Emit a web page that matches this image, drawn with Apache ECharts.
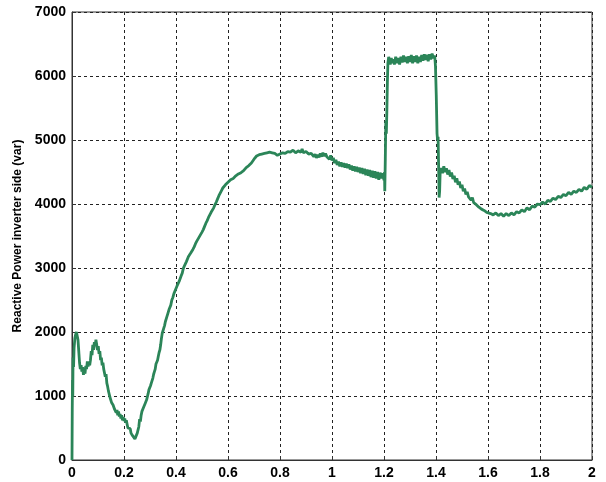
<!DOCTYPE html>
<html><head><meta charset="utf-8">
<script src="https://cdn.jsdelivr.net/npm/echarts@6/dist/echarts.min.js"></script>
<style>html,body{margin:0;padding:0;background:#fff}#c{width:606px;height:482px}</style>
</head><body><div id="c"></div>
<script>
var xTicks = [0,0.2,0.4,0.6,0.8,1,1.2,1.4,1.6,1.8,2];
var yTicks = [0,1000,2000,3000,4000,5000,6000,7000];
var yName = 'Reactive Power inverter side (var)';
var reactive = [
[0,0],[0.001,800],[0.002,1250],[0.003,1000],[0.004,1600],[0.006,1450],[0.008,1750],[0.011,1900],[0.014,1960],[0.017,2000],[0.020,1970],[0.023,1880],[0.026,1700],[0.029,1520],[0.032,1420],[0.035,1480],[0.038,1380],[0.041,1450],[0.044,1330],[0.047,1400],[0.050,1350],[0.053,1470],[0.056,1420],[0.059,1540],[0.062,1460],[0.065,1520],[0.068,1480],[0.071,1560],[0.074,1700],[0.077,1640],[0.080,1800],[0.083,1720],[0.086,1840],[0.089,1780],[0.092,1880],[0.095,1800],[0.098,1720],[0.101,1780],[0.104,1660],[0.107,1700],[0.110,1560],[0.113,1600],[0.116,1480],[0.119,1520],[0.122,1420],[0.125,1440],[0.128,1300],[0.131,1340],[0.134,1200],[0.137,1150],[0.140,1080],[0.143,1100],[0.146,980],[0.149,1010],[0.152,900],[0.155,930],[0.158,860],[0.161,890],[0.164,790],[0.167,820],[0.170,740],[0.173,780],[0.176,700],[0.179,760],[0.182,680],[0.185,720],[0.188,650],[0.191,700],[0.194,620],[0.197,670],[0.200,610],[0.203,650],[0.206,580],[0.209,620],[0.212,560],[0.215,500],[0.218,530],[0.221,470],[0.224,490],[0.227,420],[0.230,440],[0.233,380],[0.236,400],[0.239,350],[0.242,330],[0.245,360],[0.248,340],[0.251,420],[0.254,470],[0.257,520],[0.260,640],[0.263,600],[0.266,700],[0.269,760],[0.272,740],[0.275,820],[0.278,800],[0.281,880],[0.284,860],[0.287,940],[0.290,990],[0.293,1040],[0.296,1100],[0.299,1080],[0.302,1160],[0.305,1200],[0.308,1240],[0.311,1280],[0.314,1340],[0.317,1380],[0.320,1420],[0.323,1500],[0.326,1480],[0.329,1560],[0.332,1620],[0.335,1680],[0.338,1720],[0.341,1800],[0.344,1900],[0.347,1980],[0.350,2020],[0.353,2060],[0.356,2100],[0.359,2160],[0.362,2180],[0.365,2240],[0.368,2280],[0.371,2300],[0.374,2360],[0.377,2380],[0.380,2420],[0.384,2500],[0.388,2540],[0.392,2600],[0.396,2620],[0.400,2680],[0.404,2720],[0.408,2740],[0.412,2790],[0.416,2820],[0.420,2880],[0.424,2920],[0.428,2990],[0.432,3030],[0.436,3060],[0.440,3100],[0.444,3130],[0.448,3180],[0.452,3200],[0.456,3230],[0.460,3260],[0.465,3290],[0.470,3330],[0.475,3380],[0.480,3420],[0.485,3450],[0.490,3490],[0.495,3520],[0.500,3560],[0.505,3600],[0.510,3650],[0.515,3700],[0.520,3740],[0.525,3790],[0.530,3830],[0.535,3870],[0.540,3900],[0.545,3940],[0.550,3990],[0.555,4030],[0.560,4080],[0.565,4130],[0.570,4170],[0.575,4210],[0.580,4250],[0.585,4270],[0.590,4300],[0.595,4330],[0.600,4340],
[0.61,4380],[0.62,4400],[0.63,4440],[0.64,4470],[0.65,4490],[0.66,4520],[0.67,4570],[0.68,4600],[0.69,4640],[0.70,4700],[0.71,4750],[0.72,4770],[0.73,4780],[0.74,4790],[0.75,4800],[0.76,4810],[0.77,4800],[0.775,4830],[0.78,4790],[0.79,4760],[0.80,4780],[0.81,4800],[0.82,4790],[0.83,4820],[0.84,4810],[0.85,4840],[0.86,4800],[0.87,4830],[0.88,4810],[0.885,4860],[0.89,4800],[0.90,4820],[0.91,4780],[0.915,4760],[0.92,4790],[0.93,4740],[0.935,4780],[0.94,4720],[0.945,4770],[0.95,4730],[0.955,4790],[0.96,4740],[0.965,4800],[0.97,4750],[0.975,4790],[0.98,4740],[0.985,4770],[0.99,4700],[0.995,4760],[1.0,4680],
[1.005,4720],[1.01,4640],[1.015,4690],[1.02,4610],[1.025,4660],[1.03,4590],[1.035,4650],[1.04,4580],[1.045,4640],[1.05,4570],[1.055,4630],[1.06,4560],[1.065,4620],[1.07,4540],[1.075,4600],[1.08,4520],[1.085,4590],[1.09,4510],[1.095,4580],[1.10,4500],[1.105,4570],[1.11,4480],[1.115,4560],[1.12,4470],[1.125,4550],[1.13,4450],[1.135,4540],[1.14,4440],[1.145,4530],[1.15,4420],[1.155,4520],[1.16,4410],[1.165,4510],[1.17,4400],[1.175,4500],[1.18,4380],[1.185,4490],[1.19,4400],[1.195,4480],[1.20,4370],[1.202,4500],[1.203,4200],[1.205,4700],[1.207,5300],[1.209,5100],[1.211,5450],[1.213,5900],[1.215,6200],[1.218,6300],[1.221,6250],[1.224,6180],[1.228,6280],[1.232,6200],[1.236,6260],[1.240,6180],[1.245,6300],[1.25,6200],[1.255,6280],[1.26,6180],[1.265,6300],[1.27,6210],[1.275,6320],[1.28,6220],[1.285,6300],[1.29,6200],[1.295,6310],[1.30,6220],[1.305,6330],[1.31,6200],[1.315,6310],[1.32,6220],[1.325,6320],[1.33,6200],[1.335,6300],[1.34,6220],[1.345,6330],[1.35,6240],[1.355,6340],[1.36,6250],[1.365,6330],[1.37,6230],[1.375,6340],[1.38,6260],[1.385,6350],[1.39,6280],[1.395,6320],[1.398,6150],[1.401,5700],[1.404,5100],[1.406,5000],[1.408,5050],[1.410,4600],[1.412,4100],[1.414,4200],[1.416,4500],[1.42,4560],[1.425,4480],[1.43,4590],[1.435,4500],[1.44,4560],[1.445,4460],[1.45,4530],[1.455,4430],[1.46,4490],[1.465,4390],[1.47,4440],[1.475,4340],[1.48,4400],[1.485,4300],[1.49,4350],[1.495,4250],[1.50,4300],[1.505,4200],[1.51,4240],[1.515,4150],[1.52,4190],[1.525,4110],[1.53,4140],[1.535,4060],[1.54,4100],[1.545,4020],[1.55,4050],[1.555,3990],[1.56,4010],[1.565,3950],[1.57,3980],[1.575,3920],[1.58,3950],[1.585,3900],[1.59,3920],[1.595,3870],[1.60,3900],[1.61,3850],[1.615,3880],[1.62,3830],[1.63,3860],[1.64,3820],[1.65,3850],[1.66,3810],[1.67,3850],[1.68,3820],[1.69,3860],[1.70,3830],[1.71,3880],[1.72,3860],[1.73,3910],[1.74,3880],[1.75,3940],[1.76,3910],[1.77,3970],[1.78,3950],[1.79,4000],[1.80,3990],[1.81,4030],[1.82,4000],[1.83,4060],[1.84,4040],[1.85,4090],[1.86,4070],[1.87,4120],[1.88,4100],[1.89,4150],[1.90,4130],[1.91,4180],[1.92,4150],[1.93,4200],[1.94,4180],[1.95,4230],[1.96,4200],[1.97,4260],[1.98,4230],[1.99,4290],[2.00,4260]
];
var chart = echarts.init(document.getElementById('c'), null, {renderer:'canvas'});
var lbl = {color:'#000', fontFamily:'Liberation Sans', fontWeight:'bold', fontSize:14};
var split = {show:true, lineStyle:{color:'#222', type:[3,3], width:1}};
chart.setOption({
  animation:false,
  backgroundColor:'#fff',
  grid:{left:72, right:14, top:12, bottom:22, show:true, borderColor:'#333', borderWidth:1, backgroundColor:'transparent'},
  xAxis:{type:'value', min:0, max:2, interval:0.2,
    axisLine:{show:true, lineStyle:{color:'#333'}},
    axisTick:{show:true, inside:true, length:4, lineStyle:{color:'#333'}},
    axisLabel:Object.assign({margin:6, formatter:function(v){var r=Math.round(v*10)/10;return xTicks.indexOf(r)>=0?String(r):'';}}, lbl),
    splitLine:split},
  yAxis:{type:'value', min:0, max:7000, interval:1000,
    name:yName, nameLocation:'middle', nameGap:47, nameRotate:90,
    nameTextStyle:{color:'#000', fontFamily:'Liberation Sans', fontWeight:'bold', fontSize:12},
    axisLine:{show:true, lineStyle:{color:'#333'}},
    axisTick:{show:true, inside:true, length:4, lineStyle:{color:'#333'}},
    axisLabel:Object.assign({margin:6, formatter:function(v){var r=Math.round(v);return yTicks.indexOf(r)>=0?String(r):'';}}, lbl),
    splitLine:split},
  series:[{type:'line', data:reactive, showSymbol:false, symbol:'none',
    lineStyle:{color:'#2b8558', width:2.8}, z:3}]
});
</script></body></html>
